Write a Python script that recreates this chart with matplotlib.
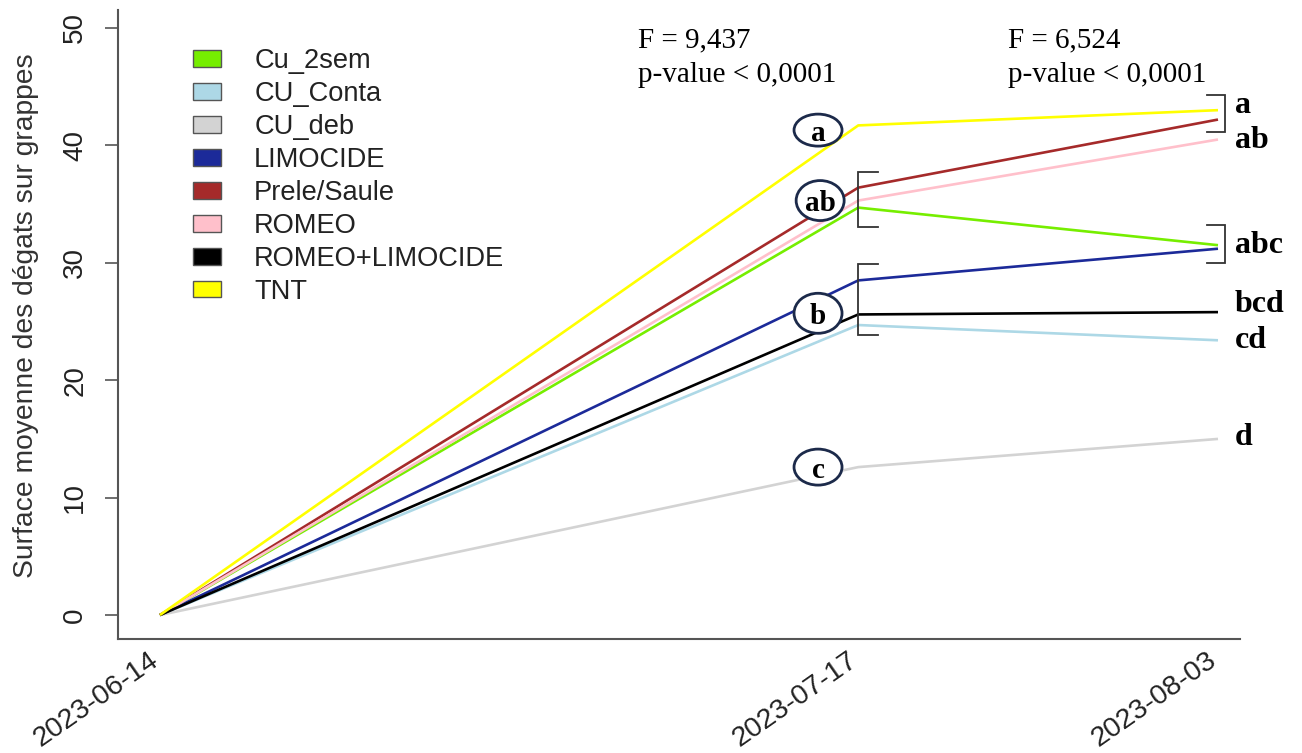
import numpy as np
import matplotlib
matplotlib.use("Agg")
import matplotlib.pyplot as plt
import matplotlib.dates as mdates
import matplotlib.transforms as mtransforms
from matplotlib.patches import Ellipse, Patch
import datetime as dt

# ---------------- data ----------------
dates = ["2023-06-14", "2023-07-17", "2023-08-03"]
treatments = ["Cu_2sem", "CU_Conta", "CU_deb", "LIMOCIDE", "Prele/Saule",
              "ROMEO", "ROMEO+LIMOCIDE", "TNT"]
colors = ["#76EE00", "#ADD8E6", "#D3D3D3", "#1C2A99", "#A52A2A",
          "#FFC0CB", "#000000", "#FFFF00"]
cu_2sem = [0, 34.7, 31.5]
cu_conta = [0, 24.7, 23.4]
cu_deb = [0, 12.6, 15.0]
limocide = [0, 28.5, 31.2]
prele_saule = [0, 36.4, 42.2]
romeo = [0, 35.3, 40.5]
romeo_limocide = [0, 25.6, 25.8]
tnt = [0, 41.7, 43.0]
series = [cu_2sem, cu_conta, cu_deb, limocide, prele_saule, romeo, romeo_limocide, tnt]

yticks = [0, 10, 20, 30, 40, 50]
ylabel = "Surface moyenne des dégats sur grappes"
stat_F = ["F = 9,437", "F = 6,524"]
stat_p = ["p-value < 0,0001", "p-value < 0,0001"]
group_letters_mid = ["a", "ab", "b", "c"]
group_letters_end = ["a", "ab", "abc", "bcd", "cd", "d"]

# ---------------- figure ----------------
W, H = 1302, 753
fig = plt.figure(figsize=(W / 100, H / 100), dpi=100)
ax = fig.add_axes([118 / W, 1 - 639 / H, (1240 - 118) / W, (639 - 10) / H])

x = [dt.datetime.strptime(d, "%Y-%m-%d") for d in dates]
xn = mdates.date2num(x)
d0 = xn[0]

for vals, col in zip(series, colors):
    ax.plot(x, vals, color=col, lw=1.9, solid_capstyle="butt", zorder=2)

ax.set_xlim(d0 - 1.98, d0 + 51.04)
ax.set_ylim(-2.04, 51.53)

for s in ["top", "right"]:
    ax.spines[s].set_visible(False)
for s in ["left", "bottom"]:
    ax.spines[s].set_color("#555555")
    ax.spines[s].set_linewidth(1.5)

ax.set_yticks(yticks)
ax.set_yticklabels([str(v) for v in yticks], rotation=90, va="center",
                   fontsize=20, family="Liberation Sans", color="#222222")
ax.tick_params(axis="y", length=9.5, width=1.2, color="#555555", pad=12)

ax.set_xticks(xn)
ax.set_xticklabels(dates, rotation=35, ha="right", rotation_mode="anchor",
                   fontsize=20.5, family="Liberation Sans", color="#222222")
ax.tick_params(axis="x", length=0, pad=6)
off = mtransforms.ScaledTranslation(-11 / 100, 0, fig.dpi_scale_trans)
for lab in ax.get_xticklabels():
    lab.set_transform(lab.get_transform() + off)

fig.text(26 / W, 1 - 316 / H, ylabel, rotation=90, ha="center", va="center",
         fontsize=20.3, family="Liberation Sans", color="#333333")

# legend
handles = [Patch(facecolor=c, edgecolor="#555555", lw=1.0) for c in colors]
leg = ax.legend(handles, treatments, loc="upper left",
                bbox_to_anchor=(193 / W, 1 - 48 / H), bbox_transform=fig.transFigure,
                frameon=False, borderpad=0, borderaxespad=0,
                handlelength=1.03, handleheight=0.58, handletextpad=1.22,
                labelspacing=0.255, prop={"family": "Liberation Sans", "size": 19.6})
for t in leg.get_texts():
    t.set_color("#222222")

# statistics text
serif = "Liberation Serif"
for xs, f, p in zip([22.6, 40.1], stat_F, stat_p):
    ax.text(d0 + xs, 48.38, f, fontsize=21, family=serif, ha="left", va="baseline")
    ax.text(d0 + xs, 45.4, p, fontsize=21, family=serif, ha="left", va="baseline")

# circled group letters at 2023-07-17
circ = [(31.1, 41.3, 32), (31.2, 35.3, 40), (31.1, 25.7, 40), (31.1, 12.6, 36)]
pxday = 21.16
pxunit = 11.74
for (cx, cy, hpx), lab in zip(circ, group_letters_mid):
    e = Ellipse((d0 + cx, cy), 48 / pxday, hpx / pxunit, facecolor="white",
                edgecolor="#1C2A4A", lw=2.0, zorder=4)
    ax.add_patch(e)
    ax.text(d0 + cx, cy, lab, fontsize=21, family=serif, weight="bold",
            ha="center", va="center_baseline", zorder=5)

# brackets
bc = "#333333"
def lbracket(xd, y1, y2, w):
    ax.plot([xd + w, xd, xd, xd + w], [y1, y1, y2, y2], color=bc, lw=1.3,
            zorder=3, solid_joinstyle="miter")

lbracket(d0 + 33, 37.7, 33.05, 0.95)
lbracket(d0 + 33, 29.9, 23.85, 0.95)
lbracket(d0 + 50.33, 44.3, 41.15, -0.85)
lbracket(d0 + 50.33, 33.2, 30.0, -0.85)

# end letters
end_y = [42.76, 39.78, 30.83, 25.81, 22.74, 14.48]
for lab, yy in zip(group_letters_end, end_y):
    ax.text(d0 + 50.8, yy, lab, fontsize=23, family=serif, weight="bold",
            ha="left", va="baseline", clip_on=False)

fig.savefig("out.png", dpi=100)
